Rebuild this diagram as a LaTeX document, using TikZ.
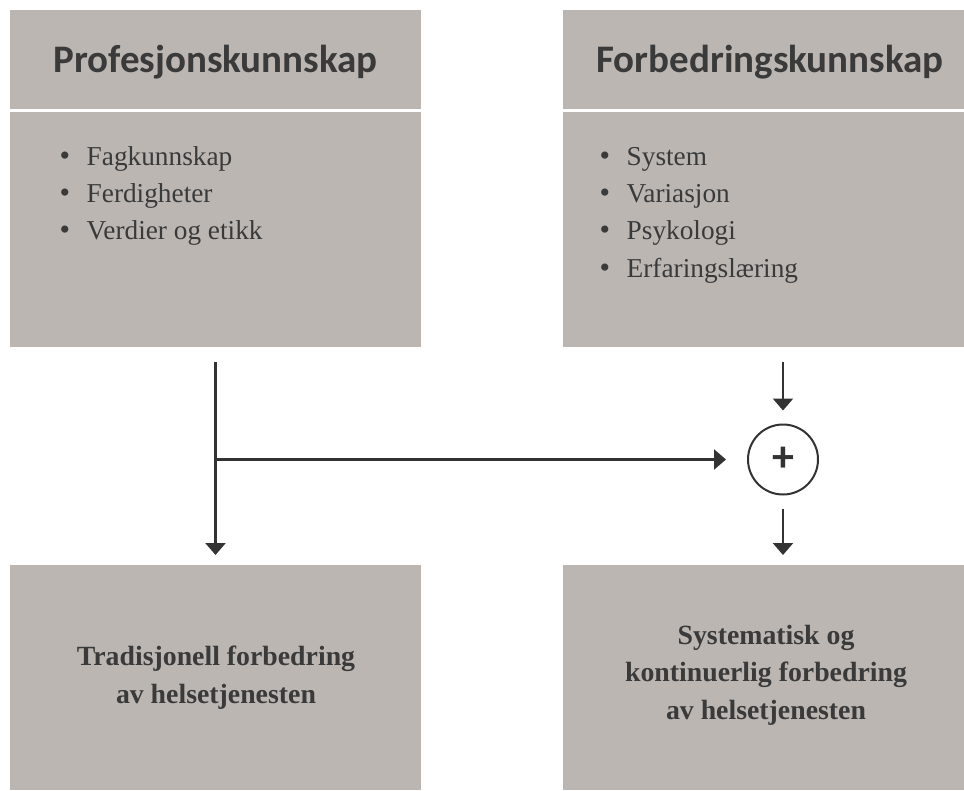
\documentclass[tikz,border=0pt]{standalone}
\usepackage{fontspec}
\setmainfont{Liberation Serif}
\newfontfamily\headfont{Carlito}
\usetikzlibrary{arrows.meta}
\definecolor{boxgray}{HTML}{BBB6B2}
\definecolor{ink}{HTML}{3A3A3A}
\definecolor{lineink}{HTML}{333333}
\tikzset{
  box/.style={fill=boxgray, draw=none, inner sep=0pt, outer sep=0pt, anchor=north west, minimum width=411pt},
  headtxt/.style={anchor=base, inner sep=0pt, text=ink, font=\headfont\bfseries\fontsize{39}{44}\selectfont},
  bul/.style={anchor=base west, inner sep=0pt, text=ink, font=\fontsize{27.3}{37}\selectfont},
  bottxt/.style={inner sep=0pt, text=ink, align=center, font=\bfseries\fontsize{27.8}{37.5}\selectfont},
  arr/.style={draw=lineink, line width=2.5pt, -{Triangle[width=20pt,length=12pt]}},
  plusnode/.style={circle, draw=lineink, line width=2pt, minimum size=70pt, inner sep=0pt, text=lineink, font=\headfont\bfseries\fontsize{44}{44}\selectfont}
}
\newcommand{\bulitem}[1]{\makebox[27pt][l]{\fontsize{30}{30}\selectfont\raisebox{0pt}{•}}#1}
\begin{document}
\begin{tikzpicture}[x=1pt,y=-1pt]
\useasboundingbox (0,0) rectangle (964,790);
% boxes
\node[box, minimum height=337pt] (tl) at (10,10) {};
\node[box, minimum height=337pt] (tr) at (563,10) {};
\node[box, minimum height=225pt] (bl) at (10,565) {};
\node[box, minimum height=225pt] (br) at (563,565) {};
% white separators
\fill[white] (10,109) rectangle (421,112);
\fill[white] (563,109) rectangle (974,112);
% headers
\node[headtxt] (tlh) at (215.5,72.5) {Profesjonskunnskap};
\node[headtxt] (trh) at (770,72.5) {Forbedringskunnskap};
% bullets left
\node[bul] (l1) at (59.5,165) {\bulitem{Fagkunnskap}};
\node[bul] (l2) at (59.5,202) {\bulitem{Ferdigheter}};
\node[bul] (l3) at (59.5,239) {\bulitem{Verdier og etikk}};
% bullets right
\node[bul] (r1) at (599.5,165) {\bulitem{System}};
\node[bul] (r2) at (599.5,202) {\bulitem{Variasjon}};
\node[bul] (r3) at (599.5,239) {\bulitem{Psykologi}};
\node[bul] (r4) at (599.5,277) {\bulitem{Erfaringslæring}};
% bottom texts
\node[bottxt] (blt) at (216,677.5) {Tradisjonell forbedring\\av helsetjenesten};
\node[bottxt] (brt) at (766,675) {Systematisk og\\kontinuerlig forbedring\\av helsetjenesten};
% plus
\node[plusnode] (plus) at (783,459.5) {+};
% connectors
\draw[arr] ([yshift=-15pt]tl.south) -- ([yshift=10pt]bl.north);
\coordinate (j) at (tl.south |- plus.west);
\draw[arr, shorten >=21pt] (j) -- (plus.west);
\coordinate (trs) at (tr.south -| plus.north);
\draw[arr] ([yshift=-15pt]trs) -- ([yshift=13pt]plus.north);
\coordinate (brn) at (br.north -| plus.south);
\draw[arr] ([yshift=-13pt]plus.south) -- ([yshift=10pt]brn);
\end{tikzpicture}
\end{document}
